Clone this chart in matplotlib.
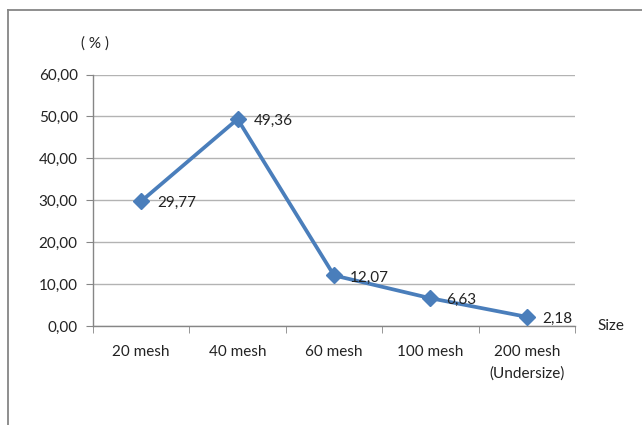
import matplotlib.pyplot as plt
from matplotlib.lines import Line2D

# Particle size distribution
sizes = ["20 mesh", "40 mesh", "60 mesh", "100 mesh", "200 mesh\n(Undersize)"]
percent = [29.77, 49.36, 12.07, 6.63, 2.18]
y_ticks = [0, 10, 20, 30, 40, 50, 60]

blue = "#4a7ebb"
axis_gray = "#868686"
grid_gray = "#b3b3b3"

plt.rcParams["font.family"] = ["Lato", "DejaVu Sans"]
plt.rcParams["font.size"] = 11

fig = plt.figure(figsize=(6.42, 4.25), dpi=100)
ax = fig.add_axes([93 / 642, 99 / 425, 482 / 642, 251.5 / 425])

x = list(range(len(sizes)))
ax.plot(x, percent, color=blue, linewidth=2.7, marker="D", markersize=8.5,
        markerfacecolor=blue, markeredgecolor=blue, zorder=3)

for xi, v in zip(x, percent):
    ax.annotate(f"{v:.2f}".replace(".", ","), (xi, v), xytext=(11.5, -1.5),
                textcoords="offset points", ha="left", va="center",
                color="#222222", zorder=4)

ax.set_xlim(-0.5, len(sizes) - 0.5)
ax.set_ylim(0, 60)
ax.set_yticks(y_ticks)
ax.set_yticklabels([f"{t:.2f}".replace(".", ",") for t in y_ticks])
ax.set_xticks(x)
ax.set_xticklabels(sizes, linespacing=1.6)
ax.set_xticks([i - 0.5 for i in range(len(sizes) + 1)], minor=True)

ax.grid(axis="y", color=grid_gray, linewidth=1)
ax.set_axisbelow(True)
for side in ("top", "right"):
    ax.spines[side].set_visible(False)
for side in ("left", "bottom"):
    ax.spines[side].set_color(axis_gray)
    ax.spines[side].set_linewidth(1)

ax.tick_params(axis="y", length=5, color=axis_gray, labelcolor="#222222", pad=6)
ax.tick_params(axis="x", which="major", length=0, labelcolor="#222222", pad=14)
ax.tick_params(axis="x", which="minor", length=5, color=axis_gray)

fig.text(95 / 642, 1 - 44 / 425, "( % )", ha="center", va="center", color="#222222")
fig.text(597 / 642, 1 - 326 / 425, "Size", ha="left", va="center", color="#222222")

# Chart frame (top and left edges)
fig.add_artist(Line2D([8 / 642, 1], [1 - 10 / 425] * 2, color=axis_gray, linewidth=1.3,
                      transform=fig.transFigure))
fig.add_artist(Line2D([8 / 642] * 2, [0, 1 - 10 / 425], color=axis_gray, linewidth=1.3,
                      transform=fig.transFigure))

fig.savefig("out.png", dpi=100)
